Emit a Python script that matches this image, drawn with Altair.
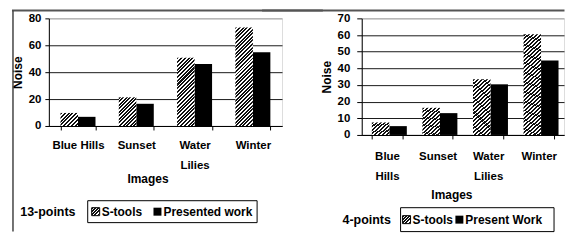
import math
import altair as alt
import pandas as pd

# ---------------- data ----------------
categories = ["Blue Hills", "Sunset", "Water Lilies", "Winter"]
series_names = ["S-tools", "Presented work"]

left_stools = [9.7, 21.3, 50.7, 73.2]
left_presented = [6.8, 16.5, 46.0, 54.8]
left_ticks = [0, 20, 40, 60, 80]

right_stools = [7.5, 16.3, 33.5, 60.4]
right_present = [5.3, 13.1, 30.4, 44.7]
right_ticks = [0, 10, 20, 30, 40, 50, 60, 70]

left_legend = ["13-points", "S-tools", "Presented work"]
right_legend = ["4-points", "S-tools", "Present Work"]

FONT = "Liberation Sans"
DARK = "#111111"


def hatch(w, h, period=2.6, duty=0.55):
    """Diagonal '/' hatch as a linear gradient in bounding-box units."""
    h = max(h, 0.5)
    L = (w + h) / math.sqrt(2)
    n = max(1, int(round(L / period)))
    ih, iw = 1.0 / h, 1.0 / w
    t = (ih + iw) / (ih ** 2 + iw ** 2)
    stops = []
    for k in range(n):
        a, b, c = k / n, (k + duty) / n, (k + 1) / n
        stops += [(a, DARK), (b, DARK), (b, "white"), (c, "white")]
    return alt.LinearGradient(
        gradient="linear",
        stops=[alt.GradientStop(offset=min(o, 1.0), color=col) for o, col in stops],
        x1=0, y1=0, x2=t * ih, y2=t * iw,
    )


def one():
    return alt.Chart(pd.DataFrame({"k": [0]}))


def panel(svals, pvals, ticks, width, height, ylab_pad, ytick, ytitle_x,
          xlab_pad, label_expr, xtitle_x, xtitle_y, legend, leg,
          top_from, top_to, left_border):
    ymax = ticks[-1]
    df = pd.DataFrame({
        "img": categories * 2,
        "series": [series_names[0]] * 4 + [series_names[1]] * 4,
        "value": list(svals) + list(pvals),
    })
    base = alt.Chart(df).encode(
        x=alt.X("img:N", sort=categories,
                scale=alt.Scale(domain=categories, paddingInner=0.4, paddingOuter=0.2),
                axis=alt.Axis(title="Images", labelAngle=0, labelFont=FONT,
                              labelFontSize=11.5, labelFontWeight="bold",
                              labelColor="black", labelPadding=xlab_pad,
                              labelExpr=label_expr, labelLineHeight=20,
                              labelBaseline="top",
                              tickBand="extent", tickSize=4, tickColor="black",
                              domainColor="black", grid=False,
                              titleFont=FONT, titleFontSize=12, titleFontWeight="bold",
                              titleColor="black", titleX=xtitle_x, titleY=xtitle_y,
                              titleBaseline="middle", titleAlign="center")),
        xOffset=alt.XOffset("series:N", scale=alt.Scale(domain=series_names)),
        y=alt.Y("value:Q", scale=alt.Scale(domain=[0, ymax], nice=False),
                axis=alt.Axis(title="Noise", values=ticks, labelFont=FONT,
                              labelFontSize=11.5, labelFontWeight="bold",
                              labelColor="black", labelPadding=ylab_pad,
                              tickSize=ytick, tickColor="black", domainColor="black",
                              grid=True,
                              gridColor={"condition": {"test": f"datum.value >= {ymax}",
                                                       "value": "#9a9a9a"},
                                         "value": "#1a1a1a"},
                              titleFont=FONT, titleFontSize=12, titleFontWeight="bold",
                              titleColor="black", titleX=ytitle_x, titleY=height / 2,
                              titleAngle=270, titleBaseline="middle",
                              titleAlign="center")),
    )
    bw = width / 4 * 0.6 / 2
    layers = [base.transform_filter(alt.datum.series == series_names[1]).mark_bar(color="black")]
    for c, v in zip(categories, svals):
        layers.append(
            base.transform_filter(
                f"datum.series == '{series_names[0]}' && datum.img == '{c}'"
            ).mark_bar(color=hatch(bw, v / ymax * height))
        )
    # frame lines
    layers.append(one().mark_rule(color="#555555", strokeWidth=2).encode(
        x=alt.value(top_from), x2=alt.value(top_to), y=alt.value(-8)))
    if left_border:
        layers.append(one().mark_rule(color="#444444", strokeWidth=1.5).encode(
            x=alt.value(top_from + 1), y=alt.value(-8), y2=alt.value(214)))
    # legend
    (tx, ty, bx1, bx2, by1, by2, s1x, s2x, t1x, t2x) = leg
    layers.append(one().mark_text(font=FONT, fontSize=12.5, fontWeight="bold",
                                  align="center", baseline="middle", color="black").encode(
        x=alt.value(tx), y=alt.value(ty), text=alt.value(legend[0])))
    layers.append(one().mark_rect(fill="white", stroke="black", strokeWidth=1).encode(
        x=alt.value(bx1), x2=alt.value(bx2), y=alt.value(by1), y2=alt.value(by2)))
    sy = (by1 + by2) / 2
    layers.append(one().mark_rect(color=hatch(8, 8, period=2.4), stroke="black",
                                  strokeWidth=1).encode(
        x=alt.value(s1x), x2=alt.value(s1x + 8), y=alt.value(sy - 4), y2=alt.value(sy + 4)))
    layers.append(one().mark_rect(color="black").encode(
        x=alt.value(s2x), x2=alt.value(s2x + 8), y=alt.value(sy - 4), y2=alt.value(sy + 4)))
    for xx, txt in ((t1x, legend[1]), (t2x, legend[2])):
        layers.append(one().mark_text(font=FONT, fontSize=12, fontWeight="bold",
                                      align="left", baseline="middle", color="black").encode(
            x=alt.value(xx), y=alt.value(sy), text=alt.value(txt)))
    return alt.layer(*layers).properties(width=width, height=height)


left = panel(left_stools, left_presented, left_ticks, 234, 108,
             ylab_pad=4, ytick=4, ytitle_x=-31,
             xlab_pad=10,
             label_expr="datum.value == 'Water Lilies' ? ['Water', 'Lilies'] : datum.label",
             xtitle_x=99, xtitle_y=53, legend=left_legend,
             leg=(-1, 194, 39, 209, 183, 205, 43, 105, 53, 115),
             top_from=-37, top_to=275, left_border=True)

right = panel(right_stools, right_present, right_ticks, 203, 117,
              ylab_pad=7, ytick=5, ytitle_x=-35,
              xlab_pad=12,
              label_expr="split(datum.label, ' ')",
              xtitle_x=90, xtitle_y=60, legend=right_legend,
              leg=(5, 202, 39, 193, 190, 214, 41, 94, 51, 104),
              top_from=-100, top_to=203.5, left_border=False)

chart = alt.hconcat(left, right, spacing=80, bounds="flush").properties(
    padding={"left": 2, "top": 0, "right": 0, "bottom": 0}
).configure_view(stroke="#9a9a9a", strokeWidth=1).configure(font=FONT)

chart.save("out.html", embed_options={"renderer": "svg", "actions": False})
